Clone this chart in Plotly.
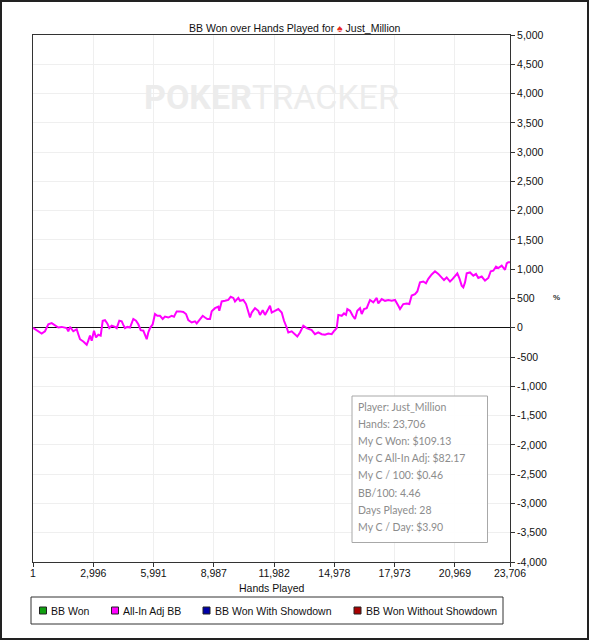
import plotly.graph_objects as go

# cumulative all-in adjusted BB
hands = [1, 184, 432, 597, 761, 930, 1094, 1258, 1427, 1675, 1755, 1840, 2004, 2173,
         2252, 2337, 2501, 2670, 2749, 2834, 2918, 3032, 3132, 3246, 3365, 3465, 3579,
         3693, 3793, 3912, 4076, 4161, 4290, 4409, 4489, 4573, 4687, 4822, 4986, 5120,
         5235, 5354, 5483, 5567, 5652, 5731, 5816, 5950, 6064, 6178, 6313, 6447, 6561,
         6725, 6894, 7008, 7142, 7307, 7471, 7605, 7719, 7888, 8052, 8137, 8301, 8435,
         8549, 8663, 8798, 8882, 9046, 9210, 9260, 9379, 9543, 9707, 9826, 9956, 10040,
         10204, 10289, 10453, 10587, 10701, 10786, 10870, 11034, 11198, 11283, 11417,
         11531, 11695, 11779, 11864, 12028, 12192, 12361, 12475, 12609, 12689, 12857,
         13021, 13135, 13270, 13434, 13603, 13732, 13851, 14015, 14179, 14348, 14512,
         14676, 14845, 14975, 15094, 15174, 15343, 15457, 15556, 15621, 15755, 15889,
         16003, 16118, 16252, 16337, 16451, 16585, 16749, 16913, 17082, 17162, 17331,
         17495, 17659, 17828, 17991, 18156, 18240, 18404, 18573, 18702, 18821, 18985,
         19099, 19233, 19397, 19531, 19646, 19815, 19979, 20143, 20312, 20426, 20560,
         20725, 20859, 20973, 21088, 21187, 21306, 21386, 21470, 21555, 21719, 21883,
         22017, 22131, 22300, 22464, 22628, 22748, 22877, 23011, 23125, 23294, 23458,
         23543, 23622, 23706]
allin_adj_bb = [0, -40, -100, -60, 60, 80, 35, 5, 15, -5, -60, 15, -60, -25,
                -110, -195, -235, -290, -220, -135, -220, -50, -165, -120, -135, 120, 130,
                75, -5, 35, 15, -5, 120, 110, 50, -5, 15, 5, 150, 120,
                60, -40, -50, -135, -195, -80, -5, 60, 235, 205, 205, 150, 190,
                175, 205, 190, 280, 280, 270, 235, 130, 90, 110, 75, 150, 205,
                175, 150, 150, 280, 335, 360, 290, 450, 460, 475, 530, 510, 450,
                510, 460, 475, 405, 290, 175, 260, 335, 290, 220, 300,
                220, 320, 375, 260, 290, 320, 260, 120, 5, -80, -60,
                -110, -150, -80, 35, -5, -25, -40, -110, -80, -110, -120,
                -100, -110, -50, -5, 220, 205, 245, 220, 320, 290, 205,
                150, 290, 335, 235, 320, 335, 475, 435, 510, 415, 490,
                460, 475, 460, 475, 375, 320, 405, 415, 405, 550, 575,
                620, 775, 790, 760, 835, 910, 965, 920, 860, 815, 860,
                790, 835, 875, 930, 850, 720, 690, 775, 930, 945, 890,
                920, 850, 875, 805, 850, 965, 975, 1045, 1020, 1060, 990,
                1100, 1120, 1120]

x_ticks = [1, 2996, 5991, 8987, 11982, 14978, 17973, 20969, 23706]
x_labels = ["1", "2,996", "5,991", "8,987", "11,982", "14,978", "17,973", "20,969", "23,706"]
y_ticks = [5000, 4500, 4000, 3500, 3000, 2500, 2000, 1500, 1000, 500, 0,
           -500, -1000, -1500, -2000, -2500, -3000, -3500, -4000]
y_labels = ["5,000", "4,500", "4,000", "3,500", "3,000", "2,500", "2,000", "1,500",
            "1,000", "500", "0", "-500", "-1,000", "-1,500", "-2,000", "-2,500",
            "-3,000", "-3,500", "-4,000"]

legend_names = ["BB Won", "All-In Adj BB", "BB Won With Showdown", "BB Won Without Showdown"]
legend_colors = ["#10a010", "#ff00ff", "#0000a8", "#a80000"]

stats = ["Player: Just_Million", "Hands: 23,706", "My C Won: $109.13",
         "My C All-In Adj: $82.17", "My C / 100: $0.46", "BB/100: 4.46",
         "Days Played: 28", "My C / Day: $3.90"]

W, H = 589, 640
L, R, T, B = 33, 79, 35, 78
pw, ph = W - L - R, H - T - B


def px(x):
    return (x - L) / pw


def py(y):
    return (H - B - y) / ph


FONT = "Liberation Sans, Arial, sans-serif"

fig = go.Figure()
fig.add_trace(go.Scatter(x=hands, y=allin_adj_bb, mode="lines", name="All-In Adj BB",
                         line=dict(color="#ff00ff", width=2), showlegend=False,
                         hoverinfo="skip"))

annotations = [
    dict(text="BB Won over Hands Played for <span style='color:#e8281e'>♠</span> Just_Million",
         xref="paper", yref="paper", x=px(W / 2), y=py(20), showarrow=False,
         font=dict(size=10.5, color="#111", family=FONT)),
    dict(text="<b>POKER</b>TRACKER", xref="paper", yref="paper", x=0.5, y=py(75),
         showarrow=False, font=dict(size=34, color="#ececec", family="Roboto")),
    dict(text="<b>%</b>", xref="paper", yref="paper", x=px(562), y=py(297),
         showarrow=False, font=dict(size=8, color="#333", family=FONT)),
    dict(text="Hands Played", xref="paper", yref="paper", x=0.5, y=py(588),
         yanchor="middle", showarrow=False, font=dict(size=10.5, color="#111", family=FONT)),
]
for i, s in enumerate(stats):
    annotations.append(dict(text=s, xref="paper", yref="paper", x=px(356),
                            y=py(406.5 + 17.2 * i), xanchor="left", yanchor="middle",
                            showarrow=False,
                            font=dict(size=10.5, color="#8c8c8c", family="Lato")))

shapes = [
    dict(type="rect", xref="paper", yref="paper", x0=px(352), x1=px(487.5),
         y0=py(542.5), y1=py(396), line=dict(color="#a8a8a8", width=1),
         fillcolor="rgba(255,255,255,0.9)", layer="above"),
    dict(type="rect", xref="paper", yref="paper", x0=px(1), x1=px(W - 1),
         y0=py(H - 1), y1=py(1), line=dict(color="#222", width=2)),
    # legend box
    dict(type="rect", xref="paper", yref="paper", x0=px(31), x1=px(503),
         y0=py(624), y1=py(597), line=dict(color="#333", width=1), fillcolor="white"),
]

# legend entries
leg_sq_x = [39.5, 111.5, 203, 354]
for name, col, sx in zip(legend_names, legend_colors, leg_sq_x):
    shapes.append(dict(type="rect", xref="paper", yref="paper", x0=px(sx), x1=px(sx + 7),
                       y0=py(614), y1=py(607), line=dict(color="#222", width=1),
                       fillcolor=col))
    annotations.append(dict(text=name, xref="paper", yref="paper", x=px(sx + 9.5),
                            y=py(610.5), xanchor="left", yanchor="middle", showarrow=False,
                            font=dict(size=10.5, color="#111", family=FONT)))

fig.update_layout(
    width=W, height=H, autosize=False,
    margin=dict(l=L, r=R, t=T, b=B),
    paper_bgcolor="white", plot_bgcolor="white",
    font=dict(family=FONT, size=10.5, color="#111"),
    showlegend=False,
    xaxis=dict(range=[1, 23706], tickvals=x_ticks, ticktext=x_labels,
               showgrid=True, gridcolor="#efefef", zeroline=False,
               showline=True, linecolor="#333", linewidth=1, mirror=True,
               ticks="outside", ticklen=4, tickcolor="#333",
               ticklabelstandoff=-3, automargin=False),
    yaxis=dict(range=[-4000, 5000], tickvals=y_ticks, ticktext=y_labels,
               side="right", showgrid=True, gridcolor="#efefef",
               zeroline=True, zerolinecolor="#111", zerolinewidth=1,
               showline=True, linecolor="#333", linewidth=1, mirror=True,
               ticks="outside", ticklen=4, tickcolor="#333", automargin=False),
    annotations=annotations,
    shapes=shapes,
)

fig.write_html("out.html", config={"displayModeBar": False},
               post_script="document.body.style.margin='0';")
